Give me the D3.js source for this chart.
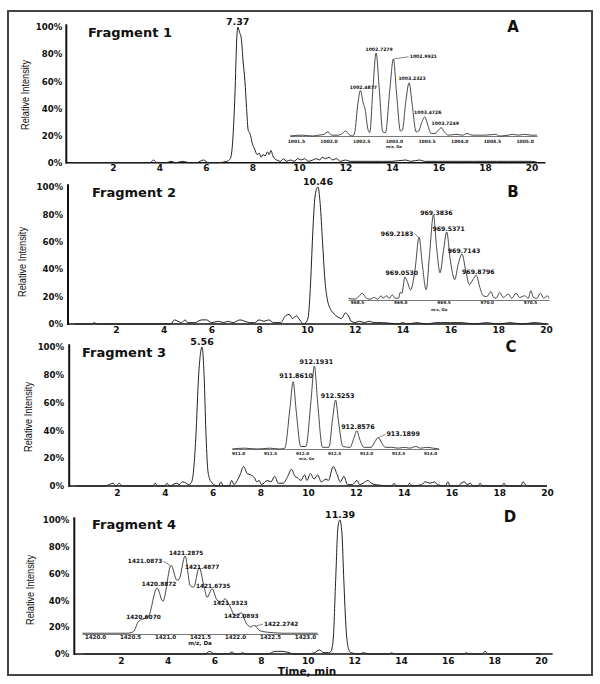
<!DOCTYPE html>
<html>
<head>
<meta charset="utf-8">
<script src="https://cdn.jsdelivr.net/npm/d3@7"></script>
<style>
  body { margin: 0; background: #fff; }
  svg { display: block; }
</style>
</head>
<body>
<div id="chart"></div>
<script>
// ---------- data ----------
const fragments = ["Fragment 1", "Fragment 2", "Fragment 3", "Fragment 4"];
const panelLetters = ["A", "B", "C", "D"];
const peakTimes = [7.37, 10.46, 5.56, 11.39];
const timeTicks = [2, 4, 6, 8, 10, 12, 14, 16, 18, 20];
const intensityTicks = [0, 20, 40, 60, 80, 100];

// chromatograms: [time (min), relative intensity %]
const chrom1 = [[0.2,0],[1,0],[2,0],[3,0],[3.6,0],[3.75,2],[3.9,0],[4.3,0],[4.5,1],[4.7,0],[5,1],[5.3,0],[5.6,0],[5.9,2],[6.1,0],[6.5,0],[6.9,1],[7.05,3],[7.15,15],[7.25,50],[7.33,92],[7.37,100],[7.45,96],[7.52,92],[7.6,75],[7.68,60],[7.75,40],[7.82,24],[7.88,22],[7.92,20],[8.0,14],[8.1,10],[8.2,6],[8.3,7],[8.38,4],[8.45,6],[8.55,5],[8.65,8],[8.72,6],[8.8,9],[8.88,5],[8.95,3],[9.05,2],[9.2,1],[9.35,3],[9.45,1],[9.65,2],[9.8,1],[9.95,3],[10.1,2],[10.25,3],[10.4,1],[10.6,2],[10.75,3],[10.9,2],[11.0,4],[11.15,3],[11.3,4],[11.45,2],[11.6,3],[11.8,1],[12.0,2],[12.2,1],[12.5,1],[12.8,1],[13.2,1],[13.6,1],[14.0,1],[14.6,2],[14.8,1],[15.2,2],[15.4,1],[16.0,1],[16.5,1],[17,1],[17.5,1],[18,1],[18.5,1],[19,1],[19.5,1],[20,1],[20.3,0]];
const chrom2 = [[0.3,0],[1.0,0],[1.1,1],[1.2,0],[2,0],[3,0],[4,0],[4.3,0],[4.45,3],[4.6,2],[4.75,1],[4.9,3],[5.0,1],[5.3,1],[5.6,3],[5.8,3],[6.0,1],[6.3,2],[6.5,1],[6.7,2],[6.9,1],[7.2,3],[7.4,2],[7.6,1],[7.8,1],[8.0,3],[8.2,2],[8.4,3],[8.6,1],[8.9,1],[9.1,6],[9.25,7],[9.4,4],[9.55,6],[9.7,3],[9.85,0],[9.95,1],[10.05,5],[10.15,30],[10.25,70],[10.35,95],[10.46,100],[10.55,88],[10.65,60],[10.75,32],[10.85,18],[10.95,12],[11.1,8],[11.3,5],[11.45,4],[11.6,8],[11.7,7],[11.85,2],[12.0,1],[12.2,2],[12.4,1],[12.6,2],[12.8,1],[13.2,1],[13.8,0],[14.0,1],[14.2,0],[14.6,1],[15.0,0],[15.4,1],[15.6,1],[16,1],[16.5,1],[17,0],[17.5,1],[18,0],[18.5,1],[19,0],[19.5,1],[20,0]];
const chrom3 = [[0.3,0],[1.5,0],[1.85,2],[1.95,0],[2.1,2],[2.2,0],[3.5,0],[3.6,2],[3.7,0],[4.0,0],[4.1,2],[4.2,0],[4.5,2],[4.6,1],[4.75,3],[4.9,2],[5.0,1],[5.1,2],[5.2,10],[5.3,35],[5.42,80],[5.56,100],[5.65,78],[5.72,40],[5.8,12],[5.88,5],[5.95,3],[6.05,1],[6.25,0],[6.35,3],[6.45,0],[6.7,0],[6.8,4],[6.9,1],[7.0,3],[7.15,8],[7.3,14],[7.45,9],[7.6,8],[7.75,6],[7.85,3],[7.95,4],[8.05,1],[8.3,4],[8.45,3],[8.6,7],[8.75,2],[8.95,2],[9.15,7],[9.3,12],[9.45,7],[9.55,6],[9.7,4],[9.85,8],[9.95,4],[10.1,9],[10.25,5],[10.4,8],[10.55,3],[10.75,5],[10.85,4],[11.05,14],[11.2,9],[11.35,3],[11.5,7],[11.65,1],[11.85,1],[12.05,4],[12.15,1],[12.3,2],[12.5,4],[12.65,2],[12.8,1],[13.5,0],[13.6,2],[13.7,0],[14.15,0],[14.25,2],[14.35,0],[14.75,1],[14.9,3],[15.1,2],[15.3,3],[15.4,1],[15.75,0],[15.85,3],[15.95,0],[16.3,0],[16.4,2],[16.55,3],[16.65,1],[16.8,2],[16.9,0],[17.1,0],[17.2,2],[17.3,0],[18.1,0],[18.2,2],[18.3,0],[18.9,0],[19.0,3],[19.15,0],[20,0]];
const chrom4 = [[0.4,0],[2,0],[3,0],[4,0],[5,0],[5.6,0],[5.8,2],[6.0,0],[6.6,0],[6.75,1.5],[6.9,0],[7.1,0],[7.2,1],[7.35,0],[8.3,0],[8.6,2],[8.9,2],[9.2,1],[9.4,0],[10,0],[10.3,1],[10.5,3],[10.7,1],[10.9,1],[11.0,2],[11.1,12],[11.2,55],[11.3,95],[11.38,100],[11.47,90],[11.55,55],[11.65,18],[11.75,4],[11.85,1],[12.2,0],[12.4,1],[12.6,0],[13.5,0],[13.6,1],[13.7,0],[16.7,0],[16.8,1],[16.9,0],[17.5,0],[17.6,2],[17.75,0],[20,0]];

// inset mass spectra: [m/z, relative intensity %]
const ms1 = [[1001.41,0],[1001.6,1],[1001.75,0],[1001.85,1],[1001.93,2],[1001.99,5],[1002.05,1],[1002.15,1],[1002.21,3],[1002.26,6],[1002.31,2],[1002.37,0],[1002.40,4],[1002.45,40],[1002.4877,55],[1002.53,40],[1002.56,32],[1002.60,9],[1002.63,4],[1002.68,58],[1002.7279,100],[1002.775,58],[1002.83,5],[1002.87,4],[1002.94,58],[1002.9921,93],[1003.04,52],[1003.10,6],[1003.13,7],[1003.18,40],[1003.2323,64],[1003.28,38],[1003.34,5],[1003.38,6],[1003.42,15],[1003.4726,23],[1003.52,13],[1003.57,3],[1003.63,3],[1003.68,7],[1003.7249,10],[1003.77,5],[1003.84,1],[1003.95,2],[1004.05,1],[1004.12,3],[1004.2,1],[1004.4,1],[1004.55,2],[1004.62,0],[1004.75,1],[1004.82,2],[1004.9,1],[1005.0,2],[1005.1,1],[1005.19,1]];
const ms2 = [[968.40,2],[968.47,1],[968.52,4],[968.56,8],[968.60,3],[968.65,1],[968.70,3],[968.74,1],[968.78,5],[968.80,2],[968.84,5],[968.87,2],[968.91,6],[968.94,2],[968.98,2],[969.00,9],[969.02,8],[969.053,27],[969.08,22],[969.12,12],[969.17,35],[969.2183,74],[969.255,42],[969.30,12],[969.34,55],[969.3836,100],[969.42,62],[969.46,32],[969.50,58],[969.5371,80],[969.58,46],[969.63,24],[969.67,42],[969.7143,54],[969.76,33],[969.80,18],[969.84,24],[969.8796,29],[969.92,15],[969.96,5],[970.00,4],[970.05,10],[970.08,3],[970.11,2],[970.15,9],[970.19,3],[970.25,7],[970.29,2],[970.34,8],[970.38,3],[970.44,5],[970.48,2],[970.51,11],[970.54,3],[970.58,2],[970.62,8],[970.66,2],[970.70,5],[970.72,2]];
const ms3 = [[910.91,0],[911.1,1],[911.3,0],[911.5,1],[911.65,0],[911.73,1],[911.81,48],[911.861,81],[911.91,45],[911.98,3],[912.06,3],[912.14,58],[912.1931,100],[912.245,55],[912.32,2],[912.42,2],[912.48,38],[912.5253,59],[912.57,33],[912.64,3],[912.75,2],[912.81,13],[912.8576,22],[912.90,12],[912.97,2],[913.08,2],[913.14,9],[913.1899,14],[913.24,8],[913.30,2],[913.4,2],[913.5,1],[913.6,2],[913.68,1],[913.78,3],[913.85,1],[913.95,2],[914.05,1],[914.14,0]];
const ms4 = [[1419.82,1],[1420.1,1],[1420.45,1],[1420.55,3],[1420.62,16],[1420.68,19],[1420.76,22],[1420.8872,59],[1420.97,42],[1421.0873,88],[1421.17,69],[1421.20,70],[1421.2875,100],[1421.36,62],[1421.41,60],[1421.4877,85],[1421.56,60],[1421.60,47],[1421.6735,58],[1421.74,44],[1421.80,41],[1421.86,45],[1421.93,35],[1422.00,23],[1422.0893,27],[1422.16,14],[1422.22,9],[1422.2742,11],[1422.36,4],[1422.5,2],[1422.7,1],[1423.0,1],[1423.18,1]];

// labelled isotope peaks: [m/z, height %]
const ms1Peaks = [[1002.4877,55],[1002.7279,100],[1002.9921,93],[1003.2323,64],[1003.4726,23],[1003.7249,10]];
const ms2Peaks = [[969.0530,27],[969.2183,74],[969.3836,100],[969.5371,80],[969.7143,54],[969.8796,29]];
const ms3Peaks = [[911.8610,81],[912.1931,100],[912.5253,59],[912.8576,22],[913.1899,14]];
const ms4Peaks = [[1420.6070,19],[1420.8872,59],[1421.0873,88],[1421.2875,100],[1421.4877,85],[1421.6735,58],[1421.9323,44],[1422.0893,27],[1422.2742,10]];

const ms1Ticks = [1001.5,1002.0,1002.5,1003.0,1003.5,1004.0,1004.5,1005.0];
const ms2Ticks = [968.5,969.0,969.5,970.0,970.5];
const ms3Ticks = [911.0,911.5,912.0,912.5,913.0,913.5,914.0];
const ms4Ticks = [1420.0,1420.5,1421.0,1421.5,1422.0,1422.5,1423.0];

// ---------- layout ----------
const W = 600, H = 684;
const boldFont = "'DejaVu Sans', Verdana, sans-serif";

const layout = [
  { t0: 66.3, t20: 531.5, axisEnd: 20.6, y0: 162.7, y100: 27, xPad: 2, yPad: 4,
    ylabX: 25, ylabY: 95, fragX: 88, fragY: 32, letterX: 513, letterY: 27,
    ms: { x0: 290, x1: 537, dom: [1001.41, 1005.19], base: 136, top: 53, tickPad: 3.4, tickFont: 4.5,
          labelFont: 4.6, titleMz: 1003.0, titleY: 146, titleFont: 3.8,
          offsets: [[3,-3],[3,-4],[30,-2,1],[3,-4],[3,-4],[4,-4]] } },
  { t0: 68, t20: 546, axisEnd: 20.1, y0: 324, y100: 187, xPad: 3, yPad: 5,
    ylabX: 22, ylabY: 262, fragX: 92, fragY: 192, letterX: 513, letterY: 192,
    ms: { x0: 348, x1: 549, dom: [968.396, 970.72], base: 300, top: 215, tickPad: 0.7, tickFont: 4.2,
          labelFont: 6.2, titleMz: 969.45, titleY: 309, titleFont: 3.9,
          offsets: [[-3,-5],[-22,-4,1],[3,-3],[2,-4],[2,-4],[2,-4]] } },
  { t0: 69.2, t20: 547, axisEnd: 20.0, y0: 486, y100: 347, xPad: 4, yPad: 5,
    ylabX: 28, ylabY: 417, fragX: 82, fragY: 352, letterX: 511, letterY: 347,
    ms: { x0: 232, x1: 439, dom: [910.906, 914.14], base: 449, top: 366, tickPad: 3.4, tickFont: 4.2,
          labelFont: 6.4, titleMz: 912.07, titleY: 459, titleFont: 3.6,
          offsets: [[3,-6],[2,-4],[2,-4],[1,-4],[25,-3,1]] } },
  { t0: 74.3, t20: 541, axisEnd: 20.5, y0: 654, y100: 520, xPad: 4, yPad: 5,
    ylabX: 30, ylabY: 590, fragX: 92, fragY: 524, letterX: 510, letterY: 517,
    ms: { x0: 82, x1: 318, dom: [1419.814, 1423.186], base: 634, top: 556, tickPad: 1.4, tickFont: 5.5,
          labelFont: 5.8, titleMz: 1421.5, titleY: 643, titleFont: 5.6,
          offsets: [[6,-2],[2,-4],[-26,-4,1],[1,-3],[3,-1],[1,-3],[0,3],[0,3],[27,-2,1]] } }
];

const chroms = [chrom1, chrom2, chrom3, chrom4];
const spectra = [ms1, ms2, ms3, ms4];
const peakLists = [ms1Peaks, ms2Peaks, ms3Peaks, ms4Peaks];
const msTicks = [ms1Ticks, ms2Ticks, ms3Ticks, ms4Ticks];

// ---------- drawing ----------
const svg = d3.select("#chart").append("svg")
  .attr("width", W)
  .attr("height", H);

// outer frame
svg.append("rect")
  .attr("x", 8).attr("y", 11)
  .attr("width", 584).attr("height", 664)
  .attr("fill", "none")
  .attr("stroke", "#444")
  .attr("stroke-width", 2);

function drawPanel(i) {
  const L = layout[i];
  const g = svg.append("g").attr("class", "panel");

  const x = d3.scaleLinear().domain([0, 20]).range([L.t0, L.t20]);
  const y = d3.scaleLinear().domain([0, 100]).range([L.y0, L.y100]);

  // x axis
  const xAxisG = g.append("g")
    .attr("transform", `translate(0,${L.y0})`)
    .call(d3.axisBottom(x).tickValues(timeTicks).tickSize(0).tickPadding(L.xPad))
    .attr("font-family", boldFont)
    .attr("font-size", 9)
    .attr("font-weight", "bold");
  xAxisG.select(".domain").remove();
  xAxisG.selectAll("text").attr("fill", "#111");
  g.append("line")
    .attr("x1", x(0)).attr("x2", x(L.axisEnd))
    .attr("y1", L.y0).attr("y2", L.y0)
    .attr("stroke", "#111").attr("stroke-width", 1.4);

  // y axis
  const yAxisG = g.append("g")
    .attr("transform", `translate(${x(0)},0)`)
    .call(d3.axisLeft(y).tickValues(intensityTicks).tickSize(0).tickPadding(L.yPad).tickFormat(d => d + "%"))
    .attr("font-family", boldFont)
    .attr("font-size", 8.6)
    .attr("font-weight", "bold");
  yAxisG.select(".domain").remove();
  yAxisG.selectAll("text").attr("fill", "#111");
  g.append("line")
    .attr("x1", x(0)).attr("x2", x(0))
    .attr("y1", y(102)).attr("y2", L.y0 + 1)
    .attr("stroke", "#111").attr("stroke-width", 2);

  g.append("text")
    .attr("transform", `translate(${L.ylabX},${L.ylabY}) rotate(-90)`)
    .attr("text-anchor", "middle")
    .attr("dominant-baseline", "central")
    .attr("font-family", "'Liberation Sans Narrow', 'Liberation Sans', Arial, sans-serif")
    .attr("font-size", 11)
    .attr("textLength", 70)
    .attr("lengthAdjust", "spacingAndGlyphs")
    .attr("fill", "#111")
    .text("Relative Intensity");

  // chromatogram trace
  const line = d3.line()
    .x(d => x(d[0]))
    .y(d => y(d[1]))
    .curve(d3.curveMonotoneX);
  g.append("path")
    .datum(chroms[i])
    .attr("d", line)
    .attr("fill", "none")
    .attr("stroke", "#222")
    .attr("stroke-width", 1);

  // retention time label
  g.append("text")
    .attr("x", x(peakTimes[i]))
    .attr("y", y(100) - 6)
    .attr("text-anchor", "middle")
    .attr("dominant-baseline", "central")
    .attr("font-family", boldFont)
    .attr("font-weight", "bold")
    .attr("font-size", 9.5)
    .attr("fill", "#111")
    .text(peakTimes[i].toFixed(2));

  g.append("text")
    .attr("x", L.fragX).attr("y", L.fragY)
    .attr("dominant-baseline", "central")
    .attr("font-family", boldFont)
    .attr("font-weight", "bold")
    .attr("font-size", 13)
    .attr("fill", "#111")
    .text(fragments[i]);

  g.append("text")
    .attr("x", L.letterX).attr("y", L.letterY)
    .attr("text-anchor", "middle")
    .attr("dominant-baseline", "central")
    .attr("font-family", boldFont)
    .attr("font-weight", "bold")
    .attr("font-size", 15)
    .attr("fill", "#111")
    .text(panelLetters[i]);

  drawInset(g, i);
}

function drawInset(g, i) {
  const M = layout[i].ms;
  const xm = d3.scaleLinear().domain(M.dom).range([M.x0, M.x1]);
  const ym = d3.scaleLinear().domain([0, 100]).range([M.base, M.top]);

  const ax = g.append("g")
    .attr("transform", `translate(0,${M.base})`)
    .call(d3.axisBottom(xm).tickValues(msTicks[i]).tickSize(0).tickPadding(M.tickPad).tickFormat(d3.format(".1f")))
    .attr("font-family", boldFont)
    .attr("font-size", M.tickFont)
    .attr("font-weight", "bold");
  ax.select(".domain").attr("stroke", "#555").attr("stroke-width", 0.8);
  ax.selectAll("text").attr("fill", "#222");

  g.append("text")
    .attr("x", xm(M.titleMz)).attr("y", M.titleY)
    .attr("text-anchor", "middle")
    .attr("dominant-baseline", "central")
    .attr("font-family", boldFont)
    .attr("font-weight", "bold")
    .attr("font-size", M.titleFont)
    .attr("fill", "#222")
    .text("m/z, Da");

  const line = d3.line()
    .x(d => xm(d[0]))
    .y(d => ym(d[1]))
    .curve(d3.curveMonotoneX);
  g.append("path")
    .datum(spectra[i])
    .attr("d", line)
    .attr("fill", "none")
    .attr("stroke", "#333")
    .attr("stroke-width", 0.9);

  // isotope peak labels
  peakLists[i].forEach((p, k) => {
    const off = M.offsets[k];
    const ax0 = xm(p[0]), ay0 = ym(p[1]);
    const cx = ax0 + off[0], cy = ay0 + off[1];
    const t = g.append("text")
      .attr("x", cx).attr("y", cy)
      .attr("text-anchor", "middle")
      .attr("dominant-baseline", "central")
      .attr("font-family", boldFont)
      .attr("font-weight", "bold")
      .attr("font-size", M.labelFont)
      .attr("fill", "#111")
      .text(d3.format(".4f")(p[0]));
    if (off[2]) {
      const w = t.node().getComputedTextLength();
      const edge = off[0] > 0 ? cx - w / 2 - 1 : cx + w / 2 + 1;
      g.append("line")
        .attr("x1", ax0 + (off[0] > 0 ? 1 : -1)).attr("y1", ay0)
        .attr("x2", edge).attr("y2", cy)
        .attr("stroke", "#333").attr("stroke-width", 0.6);
    }
  });
}

for (let i = 0; i < 4; i++) drawPanel(i);

// shared x-axis title
svg.append("text")
  .attr("x", 307).attr("y", 671)
  .attr("text-anchor", "middle")
  .attr("dominant-baseline", "central")
  .attr("font-family", boldFont)
  .attr("font-weight", "bold")
  .attr("font-size", 10.5)
  .attr("fill", "#111")
  .text("Time, min");
</script>
</body>
</html>
